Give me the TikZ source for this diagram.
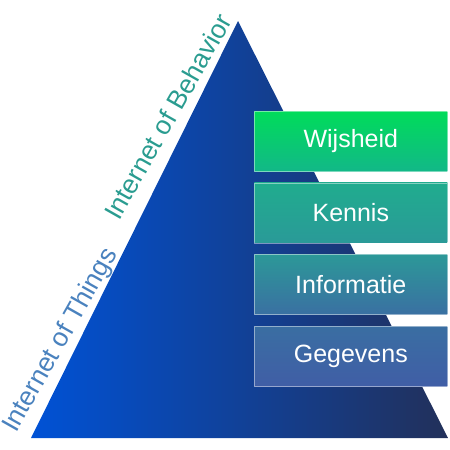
\documentclass[tikz,border=0pt]{standalone}
\usepackage{fontspec}
\setmainfont{Liberation Sans}
\usetikzlibrary{positioning}
\definecolor{pyrleft}{HTML}{0052D6}
\definecolor{pyrright}{HTML}{22305A}
\definecolor{iobteal}{HTML}{2A9C90}
\definecolor{iotblue}{HTML}{4A82BE}
\definecolor{wijstop}{HTML}{00DC5A}
\definecolor{wijsbot}{HTML}{12B888}
\definecolor{kentop}{HTML}{20AC8E}
\definecolor{kenbot}{HTML}{2A9A98}
\definecolor{inftop}{HTML}{2C9898}
\definecolor{infbot}{HTML}{3A70A2}
\definecolor{gegtop}{HTML}{3A6EA2}
\definecolor{gegbot}{HTML}{405EA6}
\tikzstyle{level} = [
    rectangle,
    minimum width=193pt,
    minimum height=60pt,
    inner sep=0pt,
    draw=white,
    draw opacity=0.45,
    line width=0.6pt,
    text=white,
    font=\fontsize{25}{29}\selectfont
]
\tikzstyle{edgetext} = [
    anchor=base west,
    rotate=60.5,
    inner sep=0pt,
    font=\fontsize{26.5}{30}\selectfont
]

\begin{document}
\begin{tikzpicture}[x=1pt, y=-1pt]
        \useasboundingbox (0,0) rectangle (450,450);

        % Pyramid
        \coordinate (apex) at (238,21);
        \coordinate (baseleft) at (31,438);
        \coordinate (baseright) at (448,438);
        \shade[left color=pyrleft, right color=pyrright]
            (apex) -- (baseleft) -- (baseright) -- cycle;

        % Levels
        \node[level, anchor=north west, top color=wijstop, bottom color=wijsbot] (wijsheid) at (254,111) {Wijsheid};
        \node[level, top color=kentop, bottom color=kenbot, below=11pt of wijsheid] (kennis) {Kennis};
        \node[level, top color=inftop, bottom color=infbot, below=11pt of kennis] (informatie) {Informatie};
        \node[level, top color=gegtop, bottom color=gegbot, below=11pt of informatie] (gegevens) {Gegevens};

        % Labels along the left side
        \node[edgetext, text=iotblue] (things) at (16,434) {Internet of Things};
        \node[edgetext, text=iobteal] (behavior) at (119,222) {Internet of Behavior};
    \end{tikzpicture}
\end{document}
